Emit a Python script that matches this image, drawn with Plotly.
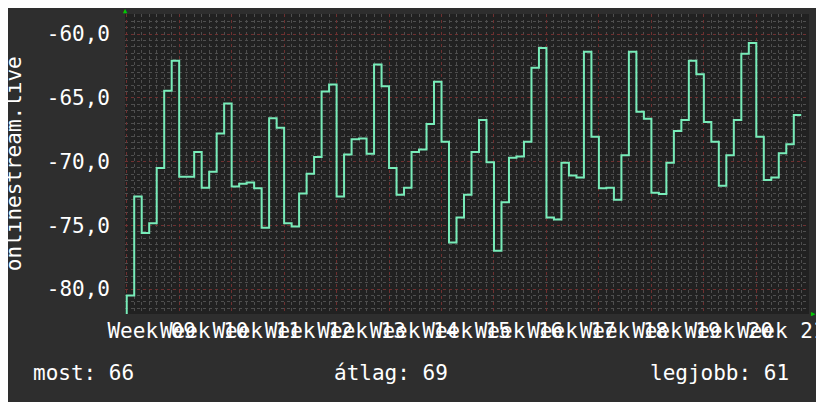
import numpy as np
import plotly.graph_objects as go

# daily signal level (one value per day, day -1 is below the scale)
signal = [
    -82.5,
    -80.5, -72.75, -75.6, -74.85, -70.5, -64.45, -62.1,
    -71.2, -71.2, -69.25, -72.05, -70.8, -67.8, -65.45,
    -71.95, -71.75, -71.65, -72.1, -75.2, -66.6, -67.35,
    -74.85, -75.1, -72.5, -70.95, -69.65, -64.5, -63.95,
    -72.75, -69.45, -68.25, -68.2, -69.4, -62.4, -64.1,
    -70.5, -72.6, -72.05, -69.25, -69.05, -67.05, -63.75,
    -68.45, -76.35, -74.4, -72.6, -69.25, -66.75, -70.05,
    -77.0, -73.2, -69.7, -69.6, -68.45, -62.65, -61.1,
    -74.4, -74.55, -70.1, -71.1, -71.25, -61.4, -68.05,
    -72.1, -72.05, -73.0, -69.5, -61.4, -66.1, -66.65,
    -72.45, -72.55, -70.1, -67.6, -66.75, -62.1, -63.15,
    -66.9, -68.45, -71.9, -69.5, -66.75, -61.55, -60.7,
    -68.05, -71.45, -71.25, -69.35, -68.65, -66.35,
]
day_end = np.arange(len(signal))  # day d ends at x = d + 1

week_numbers = [9, 10, 11, 12, 13, 14, 15, 16, 17, 18, 19, 20, 21]
week_starts = [7 * i for i in range(len(week_numbers))]
week_labels = ["Week %02d" % w for w in week_numbers]

y_ticks = [-80, -75, -70, -65, -60]
y_labels = [("%.1f" % v).replace(".", ",") for v in y_ticks]

stat_labels = ["most: 66", "átlag: 69", "legjobb: 61"]

mono = "DejaVu Sans Mono"
line_color = "#78ecb9"
major_grid = "#6e3030"
minor_grid = "#4e4e4e"

fig = go.Figure()
fig.add_trace(go.Scatter(
    x=day_end, y=signal, mode="lines",
    line=dict(color=line_color, width=2, shape="vh"),
    hoverinfo="skip", showlegend=False,
))

# page body has an 8px offset, so margins are trimmed by 8 on left/top
fig.update_layout(
    width=824, height=402,
    margin=dict(l=117, r=23, t=6, b=96, autoexpand=False),
    paper_bgcolor="#2e2e2e",
    plot_bgcolor="#212121",
    font=dict(family=mono, size=21, color="#ffffff"),
    xaxis=dict(
        range=[-0.23, 91.03],
        tickmode="array", tickvals=week_starts, ticktext=week_labels,
        ticklabelshift=25, tickangle=0, ticks="",
        ticklabelstandoff=2, ticklabeloverflow="allow",
        showgrid=True, gridcolor=major_grid, griddash="dot", gridwidth=1,
        minor=dict(tickmode="linear", tick0=0, dtick=1, showgrid=True,
                   gridcolor=minor_grid, griddash="dot", gridwidth=1),
        zeroline=False, showline=False,
        tickfont=dict(family=mono, size=21, color="#ffffff"),
    ),
    yaxis=dict(
        range=[-81.96, -58.43],
        tickmode="array", tickvals=y_ticks, ticktext=y_labels,
        ticks="", ticklabelstandoff=14,
        showgrid=True, gridcolor=major_grid, griddash="dot", gridwidth=1,
        minor=dict(tickmode="linear", tick0=0, dtick=0.5, showgrid=True,
                   gridcolor=minor_grid, griddash="dot", gridwidth=1),
        zeroline=False, showline=False,
        tickfont=dict(family=mono, size=21, color="#ffffff"),
    ),
)

# vertical axis title
fig.add_annotation(
    text="onlinestream.live", textangle=-90,
    xref="paper", yref="paper", x=-0.162, y=0.5,
    xanchor="center", yanchor="middle", showarrow=False,
    font=dict(family=mono, size=21, color="#ffffff"),
)

# summary line under the chart
for txt, xpos in zip(stat_labels, [-0.137, 0.303, 0.765]):
    fig.add_annotation(
        text=txt, xref="paper", yref="paper", x=xpos, y=-0.195,
        xanchor="left", yanchor="middle", showarrow=False,
        font=dict(family=mono, size=21, color="#ffffff"),
    )

# little green arrows at the axis ends
fig.add_annotation(text="▲", xref="paper", yref="paper", x=0.0, y=1.01,
                   xanchor="center", yanchor="middle", showarrow=False,
                   font=dict(size=7, color="#00cc00"))
fig.add_annotation(text="▶", xref="paper", yref="paper", x=1.0, y=0.0,
                   xanchor="left", yanchor="middle", showarrow=False,
                   font=dict(size=7, color="#00cc00"))

fig.write_html("out.html")
